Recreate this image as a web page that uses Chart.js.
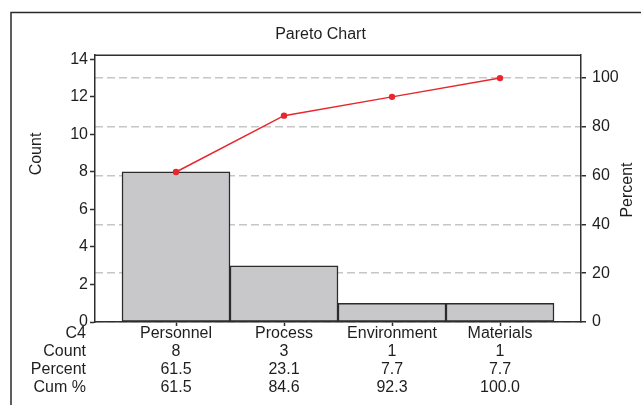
<!DOCTYPE html>
<html>
<head>
<meta charset="utf-8">
<script src="https://cdn.jsdelivr.net/npm/chart.js@4/dist/chart.umd.min.js"></script>
<style>
  html, body { margin: 0; padding: 0; background: #ffffff; }
  #wrap { width: 641px; height: 405px; }
</style>
</head>
<body>
<div id="wrap"><canvas id="c" width="641" height="405"></canvas></div>
<script>
// ---- data ----
const categories = ['Personnel', 'Process', 'Environment', 'Materials'];
const counts = [8, 3, 1, 1];
const percents = [61.5, 23.1, 7.7, 7.7];
const cumPercents = [61.5, 84.6, 92.3, 100.0];
const rowLabels = ['C4', 'Count', 'Percent', 'Cum %'];
const chartTitle = 'Pareto Chart';
const countAxisTitle = 'Count';
const percentAxisTitle = 'Percent';

const totalCount = counts.reduce((a, b) => a + b, 0);
const countMax = 14.22;
const percentMax = countMax * 100 / totalCount;

const FONT = "'Liberation Sans', Arial, sans-serif";
const TEXT = '#1e1e1e';
const AXIS = '#2e2e2e';
const FS = 16;
const LINE_H = 18;
const X_TICK_LEN = 4;
const X_TICK_PAD = -1;

Chart.defaults.font.family = FONT;
Chart.defaults.font.size = FS;
Chart.defaults.color = TEXT;

const framePlugin = {
  id: 'frame',
  beforeDraw(chart) {
    const ctx = chart.ctx;
    ctx.save();
    ctx.fillStyle = '#ffffff';
    ctx.fillRect(0, 0, chart.width, chart.height);
    ctx.strokeStyle = '#2a2a2a';
    ctx.lineWidth = 1.5;
    ctx.beginPath();
    ctx.moveTo(11, chart.height);
    ctx.lineTo(11, 12.5);
    ctx.lineTo(chart.width, 12.5);
    ctx.stroke();
    ctx.restore();
  },
  afterDraw(chart) {
    const ctx = chart.ctx;
    const a = chart.chartArea;
    ctx.save();
    // top edge of the plot box
    ctx.strokeStyle = AXIS;
    ctx.lineWidth = 1.5;
    ctx.beginPath();
    ctx.moveTo(a.left, a.top);
    ctx.lineTo(a.right, a.top);
    ctx.stroke();
    // row labels of the table under the axis
    ctx.fillStyle = TEXT;
    ctx.font = FS + 'px ' + FONT;
    ctx.textAlign = 'right';
    ctx.textBaseline = 'middle';
    const top = chart.scales.x.top + X_TICK_LEN + X_TICK_PAD;
    rowLabels.forEach((t, i) => {
      ctx.fillText(t, 86, top + LINE_H / 2 + i * LINE_H);
    });
    // axis titles (both read bottom-to-top)
    ctx.textAlign = 'center';
    ctx.save();
    ctx.translate(37, 154);
    ctx.rotate(-Math.PI / 2);
    ctx.fillText(countAxisTitle, 0, 0);
    ctx.restore();
    ctx.save();
    ctx.translate(628, 190);
    ctx.rotate(-Math.PI / 2);
    ctx.fillText(percentAxisTitle, 0, 0);
    ctx.restore();
    ctx.restore();
  }
};

new Chart(document.getElementById('c'), {
  type: 'bar',
  data: {
    datasets: [
      {
        type: 'line',
        label: 'Cum %',
        data: cumPercents.map((v, i) => ({ x: i, y: v })),
        yAxisID: 'y2',
        borderColor: '#e8262d',
        backgroundColor: '#e8262d',
        borderWidth: 1.5,
        pointRadius: 3.2,
        pointBorderWidth: 0,
        tension: 0,
        order: 0
      },
      {
        type: 'bar',
        label: 'Count',
        data: counts.map((v, i) => ({ x: i, y: v })),
        yAxisID: 'y',
        backgroundColor: '#c8c8ca',
        borderColor: '#2b2b2b',
        borderWidth: 1.5,
        borderSkipped: false,
        barPercentage: 1,
        categoryPercentage: 1,
        order: 1
      }
    ]
  },
  options: {
    responsive: false,
    animation: false,
    events: [],
    layout: { padding: 0 },
    plugins: {
      legend: { display: false },
      tooltip: { enabled: false },
      title: {
        display: true,
        text: chartTitle,
        color: TEXT,
        font: { size: FS, weight: 'normal', family: FONT },
        padding: { top: 25, bottom: 11 }
      }
    },
    scales: {
      x: {
        type: 'linear',
        position: 'bottom',
        offset: false,
        min: -0.75,
        max: 3.75,
        afterBuildTicks: (s) => { s.ticks = categories.map((_, i) => ({ value: i })); },
        afterFit: (s) => { s.height = 405 - 322; },
        ticks: {
          autoSkip: false,
          maxRotation: 0,
          minRotation: 0,
          padding: X_TICK_PAD,
          color: TEXT,
          font: { size: FS, lineHeight: LINE_H / FS },
          callback: (v) => {
            const i = Math.round(v);
            return [categories[i], String(counts[i]), percents[i].toFixed(1), cumPercents[i].toFixed(1)];
          }
        },
        grid: { offset: false, drawOnChartArea: false, tickLength: X_TICK_LEN, tickColor: AXIS, tickWidth: 1.5 },
        border: { color: AXIS, width: 1.5 }
      },
      y: {
        position: 'left',
        min: 0,
        max: countMax,
        afterFit: (s) => { s.width = 95; },
        ticks: { stepSize: 2, includeBounds: false, padding: 2, color: TEXT, font: { size: FS } },
        grid: { drawOnChartArea: false, tickLength: 5, tickColor: AXIS, tickWidth: 1.5 },
        border: { color: AXIS, width: 1.5 }
      },
      y2: {
        position: 'right',
        min: 0,
        max: percentMax,
        afterFit: (s) => { s.width = 641 - 581; },
        ticks: { stepSize: 20, includeBounds: false, padding: 6, color: TEXT, font: { size: FS } },
        grid: {
          drawOnChartArea: true,
          color: '#c6c6c6',
          lineWidth: 1.5,
          tickLength: 5,
          tickColor: AXIS,
          tickWidth: 1.5
        },
        border: { color: AXIS, width: 1.5, dash: [8, 4] }
      }
    }
  },
  plugins: [framePlugin]
});
</script>
</body>
</html>
